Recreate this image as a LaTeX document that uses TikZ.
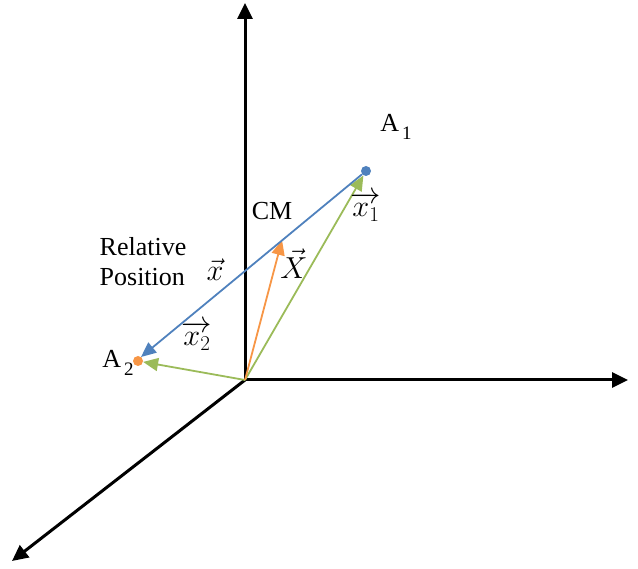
\documentclass[tikz,border=0pt]{standalone}
\usepackage{amsmath,amssymb}
\usepackage{graphicx}
\usepackage{fontspec}
\setmainfont{Liberation Serif}
\usepackage{xcolor}
\usepackage{tikz}
\usetikzlibrary{arrows.meta,positioning,calc}
\definecolor{vecblue}{RGB}{79, 129, 189}
\definecolor{vecorange}{RGB}{247, 150, 70}
\definecolor{vecgreen}{RGB}{155, 187, 89}
\newcommand{\lowidx}[1]{\kern3pt\raisebox{-8pt}{\fontsize{19}{19}\selectfont #1}}
\newcommand{\bigmath}[1]{\scalebox{1.22}{$#1$}}

\begin{document}
\begin{tikzpicture}[x=1pt, y=-1pt, every node/.style={font=\fontsize{26}{30}\selectfont},
    axis/.style={line width=3pt, -{Triangle[length=16pt, width=15pt]}},
    vec/.style={line width=1.8pt, -{Triangle[length=15pt, width=13pt]}},
    veclbl/.style={inner sep=1pt},
    pointdot/.style={circle, inner sep=0pt, minimum size=10pt}]
    \useasboundingbox (0,0) rectangle (638,569);

    % Axes
    \coordinate (o) at (245, 380);
    \coordinate (ytop) at (245, 3);
    \coordinate (xend) at (628, 380);
    \coordinate (zend) at (12, 561);
    \draw[axis] (o) -- (ytop);
    \draw[axis] (o) -- (xend);
    \draw[axis] (o) -- (zend);

    % Points
    \node[pointdot, fill=vecblue] (a1) at (366, 171) {};
    \node[pointdot, fill=vecorange] (a2) at (138, 361) {};
    \coordinate (cm) at (282, 240);

    % Vectors
    \draw[vec, vecgreen] (o) -- (a1);
    \draw[vec, vecgreen] (o) -- (a2);
    \draw[vec, vecorange] (o) -- (cm);
    \draw[vec, vecblue] (a1) -- ([shift={(3,-4)}]a2.center);

    % Labels
    \node (a1lbl) at (396, 127) {A\lowidx{1}};
    \node (a2lbl) at (118, 363) {A\lowidx{2}};
    \node (cmlbl) at (272, 211) {CM};
    \node[align=left, inner sep=0pt] (rellbl) at (143, 262) {Relative\\Position};
    \node[veclbl] (xlbl) at (215, 270) {\bigmath{\vec{x}}};
    \node[veclbl] (Xlbl) at (294, 264) {\bigmath{\vec{X}}};
    \node[veclbl] (x1lbl) at (366, 207) {\bigmath{\overrightarrow{x_1}}};
    \node[veclbl] (x2lbl) at (197, 336) {\bigmath{\overrightarrow{x_2}}};
\end{tikzpicture}
\end{document}
